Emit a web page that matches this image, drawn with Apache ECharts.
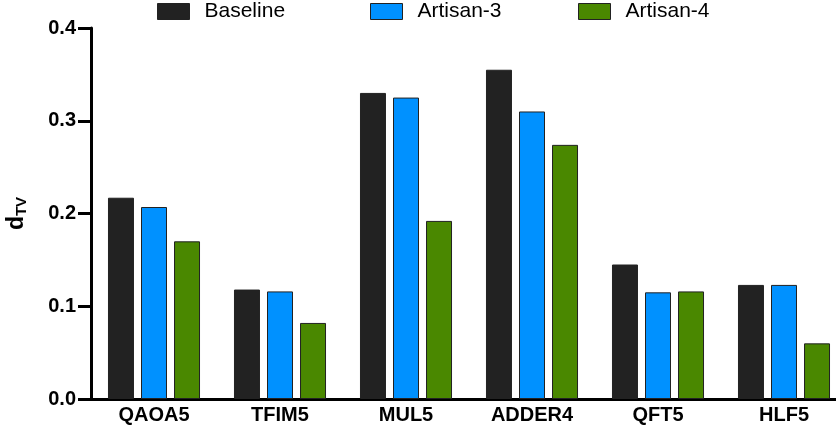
<!DOCTYPE html>
<html><head><meta charset="utf-8">
<script src="https://cdn.jsdelivr.net/npm/echarts@6/dist/echarts.min.js"></script>
<style>html,body{margin:0;padding:0;background:#fff}#c{width:836px;height:432px}</style>
</head><body><div id="c"></div>
<script>
const categories = ['QAOA5','TFIM5','MUL5','ADDER4','QFT5','HLF5'];
const baseline = [0.217,0.118,0.330,0.355,0.145,0.123];
const artisan3 = [0.207,0.116,0.325,0.310,0.115,0.123];
const artisan4 = [0.170,0.082,0.192,0.274,0.116,0.060];
const yTicks = [0.0,0.1,0.2,0.3,0.4];

const chart = echarts.init(document.getElementById('c'));
const font = 'Liberation Sans, Arial, Helvetica, sans-serif';
function leg(name, left){
  return {data:[{name:name, icon:'rect'}], left:left, top:1, itemWidth:32, itemHeight:16, itemGap:0, padding:0,
    textStyle:{fontFamily:font, fontSize:21, color:'#000', padding:[0,0,0,10]},
    itemStyle:{borderColor:'#222', borderWidth:1}};
}
function ser(name, data, color){
  return {name:name, type:'bar', data:data, barWidth:26, barGap:'27%',
    itemStyle:{color:color, borderColor:'#222', borderWidth:1}};
}
chart.setOption({
  animation:false,
  legend:[leg('Baseline',157), leg('Artisan-3',370), leg('Artisan-4',578)],
  grid:{left:91, width:756, top:28, bottom:33, containLabel:false, outerBoundsMode:'none'},
  xAxis:{type:'category', data:categories,
    axisLine:{lineStyle:{color:'#000', width:3}},
    axisTick:{show:false},
    axisLabel:{fontFamily:font, fontSize:20, fontWeight:'bold', color:'#000', margin:6}},
  yAxis:{type:'value', min:0, max:0.4, interval:0.1,
    name:'d{sub|TV}', nameLocation:'middle', nameGap:62, nameRotate:90,
    nameTextStyle:{fontFamily:font, fontSize:23, fontWeight:'bold', color:'#000',
      rich:{sub:{fontFamily:font, fontSize:15, fontWeight:'bold', color:'#000', verticalAlign:'bottom', padding:[10,0,0,0]}}},
    splitLine:{show:false},
    axisLine:{show:true, lineStyle:{color:'#000', width:3}},
    axisTick:{show:true, length:13, lineStyle:{color:'#000', width:3}},
    axisLabel:{fontFamily:font, fontSize:20, fontWeight:'bold', color:'#000', margin:15,
      formatter:function(v){ return yTicks.indexOf(Math.round(v*10)/10)>=0 ? v.toFixed(1) : ''; }}},
  series:[ser('Baseline',baseline,'#222222'), ser('Artisan-3',artisan3,'#0091ff'), ser('Artisan-4',artisan4,'#4a8800')]
});
</script></body></html>
